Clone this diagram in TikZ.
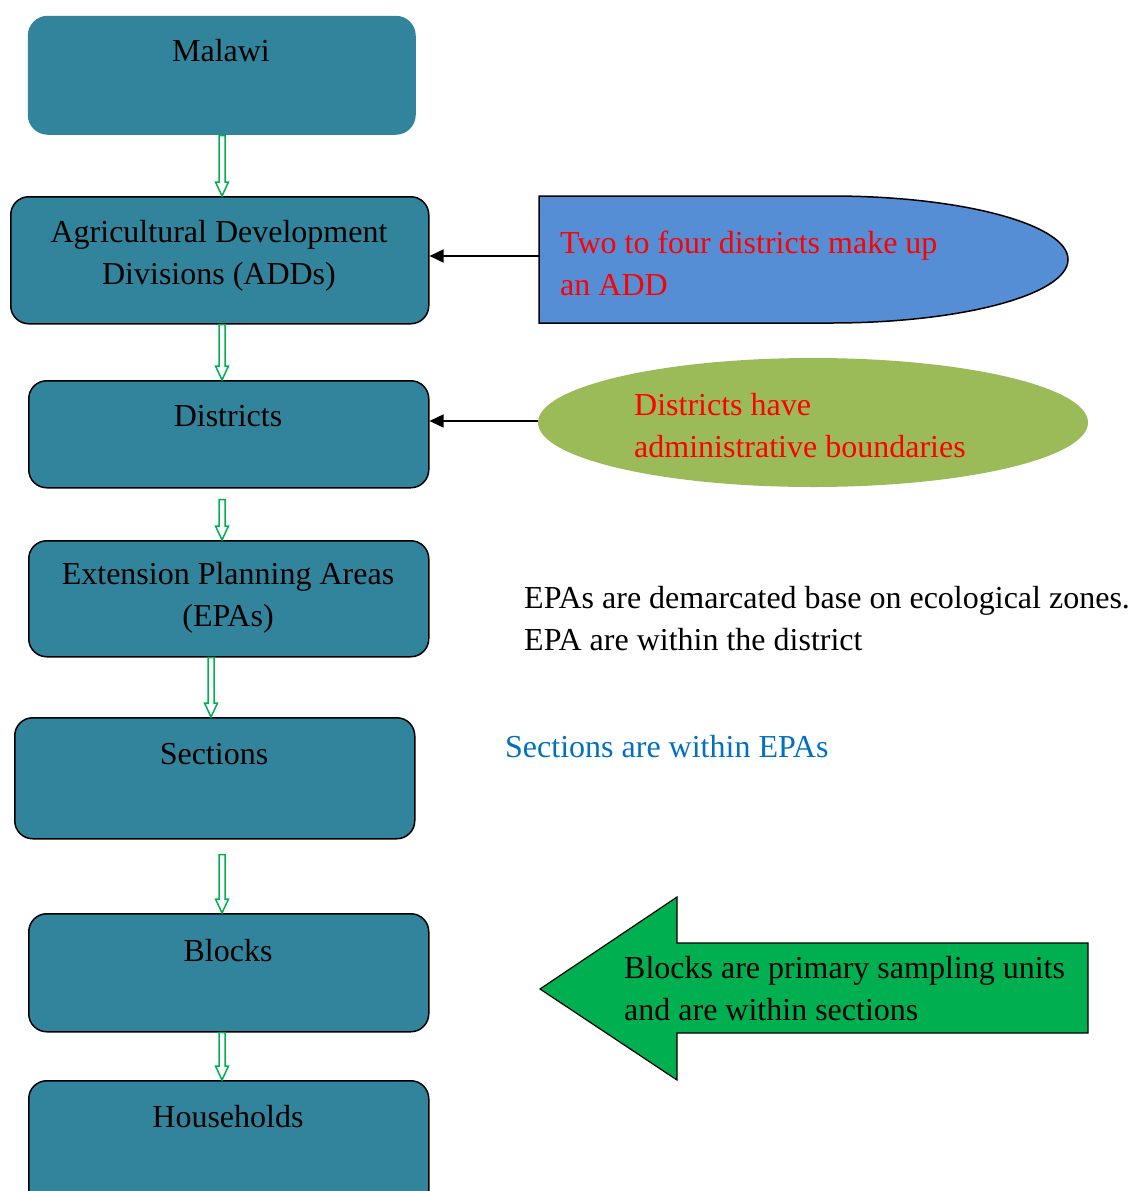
\documentclass[tikz,border=0pt]{standalone}
\usepackage{fontspec}
\setmainfont{Liberation Serif}
\usetikzlibrary{arrows.meta,calc,shapes.geometric}
\definecolor{boxteal}{HTML}{31849B}
\definecolor{calloutblue}{HTML}{558ED5}
\definecolor{calloutolive}{HTML}{9BBB59}
\definecolor{arrowgreen}{HTML}{00B050}
\definecolor{textblue}{HTML}{0070C0}
\newcommand\hollowarr[4]{%
  \draw[hollowline] let \p1=(#2.south), \p2=(#3.north) in
   (#1pt-3pt,\y1-#4pt) -- (#1pt-3pt,\y2+14pt) -- (#1pt-6.5pt,\y2+14pt) -- (#1pt,\y2)
   -- (#1pt+6.5pt,\y2+14pt) -- (#1pt+3pt,\y2+14pt) -- (#1pt+3pt,\y1-#4pt) -- cycle;}
\begin{document}
\begin{tikzpicture}[x=1pt,y=-1pt,
  font=\fontsize{32}{42}\selectfont,
  box/.style={draw=black, line width=1.5pt, fill=boxteal, rounded corners=18pt,
    inner sep=0pt, anchor=north west},
  lbl/.style={inner sep=0pt, align=center},
  note/.style={inner sep=0pt, align=left, anchor=west},
  hollowline/.style={draw=arrowgreen, fill=white, line width=1.5pt, line join=miter},
  pointer/.style={draw=black, line width=1.5pt, -{Triangle[length=14pt,width=13pt]}}]
\useasboundingbox (0,0) rectangle (1132,1191);
% boxes
\node[box, draw=none, rounded corners=20pt, minimum width=388pt, minimum height=119pt] (malawi) at (27,15) {};
\node[box, minimum width=418pt, minimum height=127pt] (add) at (10,196) {};
\node[box, minimum width=400pt, minimum height=107pt] (dist) at (28,380) {};
\node[box, minimum width=400pt, minimum height=116pt] (epa) at (28,540) {};
\node[box, minimum width=400pt, minimum height=121pt] (sec) at (14,717) {};
\node[box, minimum width=400pt, minimum height=118pt] (blk) at (28,913) {};
\node[box, minimum width=400pt, minimum height=130pt] (hh) at (28,1080) {};
% box texts
\node[lbl, anchor=base] (tmalawi) at (221,61) {Malawi};
\node[lbl] (tadd) at (219,255.5) {Agricultural Development\\Divisions (ADDs)};
\node[lbl, anchor=base] (tdist) at (228,426) {Districts};
\node[lbl] (tepa) at (228,598) {Extension Planning Areas\\(EPAs)};
\node[lbl, anchor=base] (tsec) at (214,764) {Sections};
\node[lbl, anchor=base] (tblk) at (228,961) {Blocks};
\node[lbl, anchor=base] (thh) at (228,1127) {Households};
% hollow arrows
\hollowarr{222}{malawi}{add}{0}
\hollowarr{222}{add}{dist}{0}
\hollowarr{222}{dist}{epa}{11}
\hollowarr{211}{epa}{sec}{0}
\hollowarr{222}{sec}{blk}{15}
\hollowarr{222}{blk}{hh}{0}
% blue callout
\draw[fill=calloutblue, draw=black, line width=1.5pt]
  (539,196) -- (831,196) arc[start angle=90, end angle=-90, x radius=237pt, y radius=63.5pt]
  -- (539,323) -- cycle;
\coordinate (bluew) at (539,256);
\node[note, text=red] (tblue) at (560,263) {Two to four districts make up\\an ADD};
\draw[pointer] (bluew) -- (bluew -| add.east);
% olive ellipse
\node[ellipse, fill=calloutolive, minimum width=550pt, minimum height=129pt, inner sep=0pt] (oval) at (813,422.5) {};
\node[note, text=red] (toval) at (634,426) {Districts have\\administrative boundaries};
\draw[pointer] ([yshift=1.5pt]oval.west) -- ([yshift=1.5pt]oval.west -| dist.east);
% free notes
\node[note] (tepanote) at (524,619) {EPAs are demarcated base on ecological zones.\\EPA are within the district};
\node[note, anchor=base west, text=textblue] (tsecnote) at (505,757) {Sections are within EPAs};
% green block arrow
\draw[fill=arrowgreen, draw=black, line width=1.2pt, line join=miter]
  (540,989) -- (677,897) -- (677,943) -- (1088,943) -- (1088,1033) -- (677,1033) -- (677,1080) -- cycle;
\node[note] (tblknote) at (624,988.5) {Blocks are primary sampling units\\and are within sections};
\end{tikzpicture}
\end{document}
